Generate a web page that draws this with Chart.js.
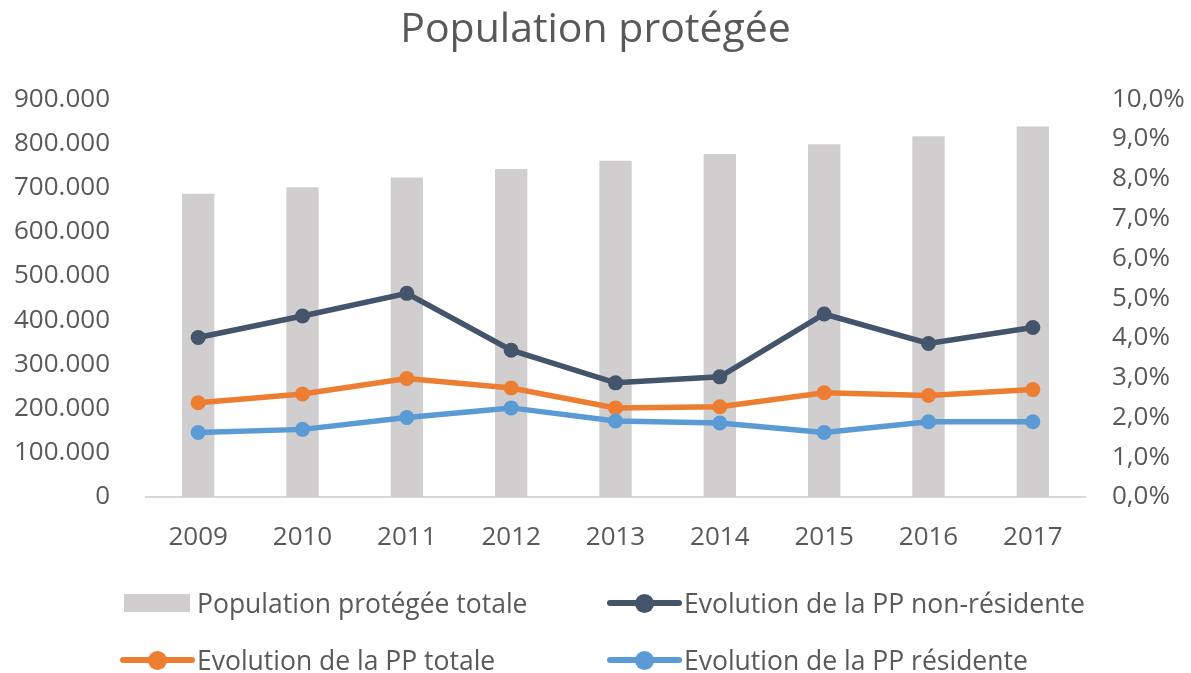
<!DOCTYPE html>
<html>
<head>
<meta charset="utf-8">
<title>Population protégée</title>
<script src="https://cdn.jsdelivr.net/npm/chart.js"></script>
<style>
    body { margin: 0; background: #fff; font-family: "Open Sans", sans-serif; }
    #wrap { position: relative; width: 1191px; height: 673px; }
    .leg { position: absolute; height: 30px; display: flex; align-items: center;
           font-size: 26.5px; color: #595959; white-space: nowrap; }
    .sym { position: relative; width: 74px; height: 30px; margin-right: 3px; }
    .box { position: absolute; left: 4px; top: 6px; width: 66px; height: 18px; }
    .bar { position: absolute; left: 0; top: 12px; width: 75px; height: 6px; border-radius: 3px; }
    .dot { position: absolute; left: 28px; top: 6px; width: 19px; height: 19px; border-radius: 50%; }
</style>
</head>
<body>
<div id="wrap">
    <canvas id="popChart" width="1191" height="673"></canvas>
    <div id="legend"></div>
</div>

<script>
    const years = ['2009', '2010', '2011', '2012', '2013', '2014', '2015', '2016', '2017'];
    const popTotale = [686000, 701000, 723000, 742000, 761000, 776000, 798000, 816000, 838000];
    const evoNonResidente = [4.01, 4.55, 5.12, 3.69, 2.87, 3.02, 4.60, 3.86, 4.26];
    const evoTotale = [2.37, 2.59, 2.98, 2.74, 2.24, 2.27, 2.62, 2.55, 2.70];
    const evoResidente = [1.62, 1.70, 2.00, 2.24, 1.91, 1.86, 1.62, 1.89, 1.89];

    const grey = '#595959';
    const font = { family: '"Open Sans", sans-serif', size: 26 };

    function lineSet(label, data, color, order) {
        return {
            type: 'line', label: label, data: data, yAxisID: 'y1', order: order,
            borderColor: color, backgroundColor: color, borderWidth: 5.5,
            pointRadius: 7.5, pointHoverRadius: 7.5, pointBorderWidth: 0, tension: 0
        };
    }

    const ctx = document.getElementById('popChart');
    const chart = new Chart(ctx, {
        type: 'bar',
        data: {
            labels: years,
            datasets: [
                { label: 'Population protégée totale', data: popTotale, yAxisID: 'y', order: 4,
                  backgroundColor: '#d0cece', barPercentage: 0.31, categoryPercentage: 1 },
                lineSet('Evolution de la PP non-résidente', evoNonResidente, '#44546a', 3),
                lineSet('Evolution de la PP totale', evoTotale, '#ed7d31', 2),
                lineSet('Evolution de la PP résidente', evoResidente, '#5b9bd5', 1)
            ]
        },
        options: {
            responsive: false,
            animation: false,
            layout: { padding: { left: 0, right: 0, top: 0, bottom: 0 } },
            plugins: {
                legend: { display: false },
                tooltip: { enabled: false },
                title: {
                    display: true, text: 'Population protégée', color: grey,
                    font: { family: font.family, size: 41, weight: 'normal' },
                    padding: { top: 6, bottom: 44 }
                }
            },
            scales: {
                x: {
                    grid: { display: false, drawTicks: false },
                    border: { display: true, color: '#d9d9d9', width: 2 },
                    ticks: { color: grey, font: font, padding: 25, maxRotation: 0 },
                    afterFit: s => { s.height = 176; }
                },
                y: {
                    position: 'left', min: 0, max: 900000,
                    grid: { display: false, drawTicks: false },
                    border: { display: false },
                    ticks: {
                        stepSize: 100000, color: grey, font: font, padding: 36,
                        callback: v => v === 0 ? '0' : String(v).replace(/\B(?=(\d{3})+(?!\d))/g, '.')
                    },
                    afterFit: s => { s.width = 146; }
                },
                y1: {
                    position: 'right', min: 0, max: 10,
                    grid: { display: false, drawTicks: false },
                    border: { display: false },
                    ticks: {
                        stepSize: 1, color: grey, font: font, padding: 27,
                        callback: v => v.toFixed(1).replace('.', ',') + '%'
                    },
                    afterFit: s => { s.width = 106; }
                }
            }
        }
    });

    // legend laid out in two columns like the original
    const legendPos = [[120, 588], [607, 588], [120, 645], [607, 645]];
    const legend = document.getElementById('legend');
    chart.data.datasets.forEach((ds, i) => {
        const item = document.createElement('div');
        item.className = 'leg';
        item.style.left = legendPos[i][0] + 'px';
        item.style.top = legendPos[i][1] + 'px';
        const sym = document.createElement('div');
        sym.className = 'sym';
        if (ds.type === 'line') {
            sym.innerHTML = '<div class="bar" style="background:' + ds.borderColor + '"></div>' +
                            '<div class="dot" style="background:' + ds.borderColor + '"></div>';
        } else {
            sym.innerHTML = '<div class="box" style="background:' + ds.backgroundColor + '"></div>';
        }
        item.appendChild(sym);
        const txt = document.createElement('span');
        txt.textContent = ds.label;
        item.appendChild(txt);
        legend.appendChild(item);
    });
</script>
</body>
</html>
